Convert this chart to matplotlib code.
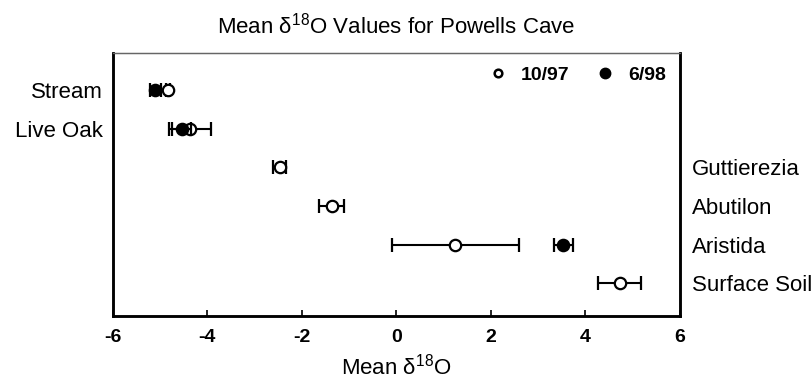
import numpy as np
import matplotlib.pyplot as plt
from matplotlib.lines import Line2D

plt.rcParams['font.family'] = ['Liberation Sans', 'DejaVu Sans']
plt.rcParams['mathtext.fontset'] = 'custom'
plt.rcParams['mathtext.rm'] = 'Liberation Sans'

# Datos
sites = ["Stream", "Live Oak", "Guttierezia", "Abutilon", "Aristida", "Surface Soil"]
oct97_mean = [-4.83, -4.37, -2.47, -1.37, 1.25, 4.73]
oct97_err = [0.05, 0.45, 0.13, 0.26, 1.35, 0.46]
jun98_mean = [-5.10, -4.54, np.nan, np.nan, 3.54, np.nan]
jun98_err = [0.12, 0.20, np.nan, np.nan, 0.21, np.nan]
xticks = [-6, -4, -2, 0, 2, 4, 6]

ypos = np.arange(len(sites))

fig = plt.figure(figsize=(8.12, 3.84), dpi=100)
ax = fig.add_axes([0.139, 0.177, 0.698, 0.685])

ax.errorbar(oct97_mean, ypos, xerr=oct97_err, fmt='o', ms=8.2, mfc='white', mec='black',
            mew=1.6, ecolor='black', elinewidth=1.5, capsize=5, capthick=1.5, zorder=3)
ax.errorbar(jun98_mean, ypos, xerr=jun98_err, fmt='o', ms=8.2, mfc='black', mec='black',
            mew=1.6, ecolor='black', elinewidth=1.5, capsize=5, capthick=1.5, zorder=4)

ax.set_xlim(-6, 6)
ax.set_ylim(5.85, -0.96)
ax.set_xticks(xticks)
ax.set_xticklabels([str(t) for t in xticks], fontsize=14, fontweight='bold')
ax.tick_params(axis='x', direction='in', length=4, width=1.2, pad=9)

# etiquetas de la izquierda
ax.set_yticks(ypos[:2])
ax.set_yticklabels(sites[:2], fontsize=16)
ax.tick_params(axis='y', length=0, pad=7)

# etiquetas de la derecha
ax2 = ax.twinx()
ax2.set_ylim(ax.get_ylim())
ax2.set_yticks(ypos[2:])
ax2.set_yticklabels(sites[2:], fontsize=16)
ax2.tick_params(axis='y', length=0, pad=9)

for a in (ax, ax2):
    for s in ('left', 'right', 'bottom'):
        a.spines[s].set_linewidth(1.8)
    a.spines['top'].set_linewidth(0.9)
    a.spines['top'].set_color('#666666')

ax.set_xlabel("Mean δ$^{18}$O", fontsize=16, labelpad=6)
ax.set_title("Mean δ$^{18}$O Values for Powells Cave", fontsize=16, pad=14)

handles = [Line2D([], [], ls='none', marker='o', ms=5.5, mfc='white', mec='black', mew=1.8),
           Line2D([], [], ls='none', marker='o', ms=7.5, mfc='black', mec='black')]
ax.legend(handles, ["10/97", "6/98"], loc='upper right', ncol=2, frameon=False,
          prop={'size': 14, 'weight': 'bold'}, handlelength=1.0, handletextpad=0.7,
          columnspacing=1.3, borderaxespad=0.3)

fig.savefig("out.png", dpi=100)
